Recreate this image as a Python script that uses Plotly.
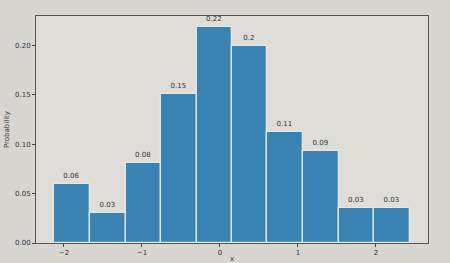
import numpy as np
import plotly.graph_objects as go

bin_edges = [-2.13, -1.67, -1.21, -0.76, -0.30, 0.16, 0.61, 1.07, 1.53, 1.98, 2.44]
probabilities = [0.060, 0.030, 0.081, 0.151, 0.219, 0.200, 0.112, 0.093, 0.035, 0.035]
bar_labels = ["0.06", "0.03", "0.08", "0.15", "0.22", "0.2", "0.11", "0.09", "0.03", "0.03"]
x_ticks = [-2, -1, 0, 1, 2]
x_tick_labels = ["\u22122", "\u22121", "0", "1", "2"]
y_ticks = [0.0, 0.05, 0.10, 0.15, 0.20]
y_tick_labels = ["0.00", "0.05", "0.10", "0.15", "0.20"]

edges = np.array(bin_edges)
centers = (edges[:-1] + edges[1:]) / 2
widths = np.diff(edges)

fig = go.Figure()
fig.add_trace(go.Bar(
    x=centers, y=probabilities, width=widths,
    marker=dict(color="#3882b4", line=dict(color="#e6e6e2", width=1.3)),
    text=bar_labels, textposition="outside",
    textfont=dict(size=7, color="#333333", family="DejaVu Sans"),
    cliponaxis=False, showlegend=False,
))

span = edges[-1] - edges[0]
fig.update_layout(
    width=450, height=263,
    margin=dict(l=36, r=22, t=16, b=20),
    paper_bgcolor="#d8d6d0", plot_bgcolor="#dfddd7",
    font=dict(family="DejaVu Sans", size=7, color="#333333"),
    bargap=0,
)
fig.update_xaxes(
    automargin=False,
    range=[edges[0] - 0.05 * span, edges[-1] + 0.05 * span],
    tickvals=x_ticks, ticktext=x_tick_labels,
    ticks="outside", ticklen=3, tickcolor="#444444",
    showline=True, linecolor="#555555", linewidth=1, mirror=True,
    showgrid=False, zeroline=False,
    title=dict(text="x", font=dict(size=7), standoff=2),
)
fig.update_yaxes(
    automargin=False,
    range=[0, max(probabilities) * 1.05],
    tickvals=y_ticks, ticktext=y_tick_labels,
    ticks="outside", ticklen=3, tickcolor="#444444",
    showline=True, linecolor="#555555", linewidth=1, mirror=True,
    showgrid=False, zeroline=False,
    title=dict(text="Probability", font=dict(size=7), standoff=4),
)

fig.write_html("out.html")
